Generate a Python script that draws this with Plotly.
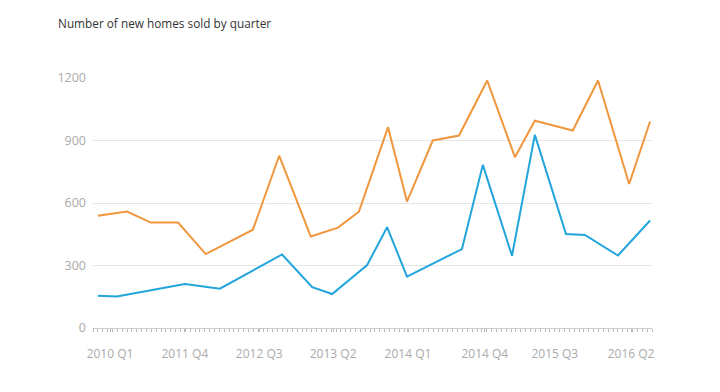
import plotly.graph_objects as go

# x positions in axis units (one unit = one minor tick on the time axis)
orange_x = [1.0, 7.0, 11.9, 17.5, 23.2, 32.9, 38.3, 44.8, 50.4, 54.7, 60.7,
            64.6, 69.9, 75.3, 81.1, 86.8, 90.9, 98.7, 103.9, 110.3, 114.6]
orange_y = [539, 559, 506, 506, 355, 472, 827, 439, 482, 558, 964,
            607, 900, 924, 1188, 820, 995, 948, 1188, 691, 991]

blue_x = [1.0, 4.9, 18.9, 26.1, 38.9, 45.1, 49.2, 56.4, 60.5, 64.6,
          75.9, 80.2, 86.2, 90.9, 97.3, 101.2, 108.0, 114.6]
blue_y = [155, 151, 211, 189, 353, 196, 163, 302, 484, 247,
          379, 783, 347, 927, 451, 447, 348, 516]

tick_pos = [3.5, 18.9, 34.2, 49.4, 64.8, 80.6, 95.0, 110.7]
tick_labels = ["2010 Q1", "2011 Q4", "2012 Q3", "2013 Q2",
               "2014 Q1", "2014 Q4", "2015 Q3", "2016 Q2"]
y_ticks = [0, 300, 600, 900, 1200]

fig = go.Figure()
fig.add_trace(go.Scatter(x=orange_x, y=orange_y, mode="lines",
                         line=dict(color="#f0963c", width=2), showlegend=False))
fig.add_trace(go.Scatter(x=blue_x, y=blue_y, mode="lines",
                         line=dict(color="#22a5dc", width=2), showlegend=False))

fig.update_layout(
    width=720, height=392,
    margin=dict(l=85, r=76, t=70, b=72),
    plot_bgcolor="white", paper_bgcolor="white",
    font=dict(family="Open Sans, sans-serif", color="#aaaaaa", size=12.5),
    title=dict(text="Number of new homes sold by quarter",
               x=50 / 720, xanchor="left", y=1 - 16 / 392, yanchor="middle",
               font=dict(size=11.8, color="#333333", family="Open Sans, sans-serif")),
    xaxis=dict(range=[0, 115], showgrid=False, zeroline=False,
               showline=True, linecolor="#cccccc", linewidth=1,
               tickmode="array", tickvals=tick_pos, ticktext=tick_labels,
               ticks="outside", ticklen=3, tickcolor="#bbbbbb",
               ticklabelstandoff=12, tickfont=dict(size=12),
               minor=dict(tickmode="linear", tick0=0, dtick=1, ticks="outside",
                          ticklen=3, tickcolor="#bbbbbb"),
               fixedrange=True),
    yaxis=dict(range=[0, 1200], tickvals=y_ticks, showgrid=True,
               gridcolor="#e6e6e6", gridwidth=1, zeroline=False,
               showline=False, ticks="", ticklabelstandoff=6,
               fixedrange=True),
)

fig.write_html("out.html")
